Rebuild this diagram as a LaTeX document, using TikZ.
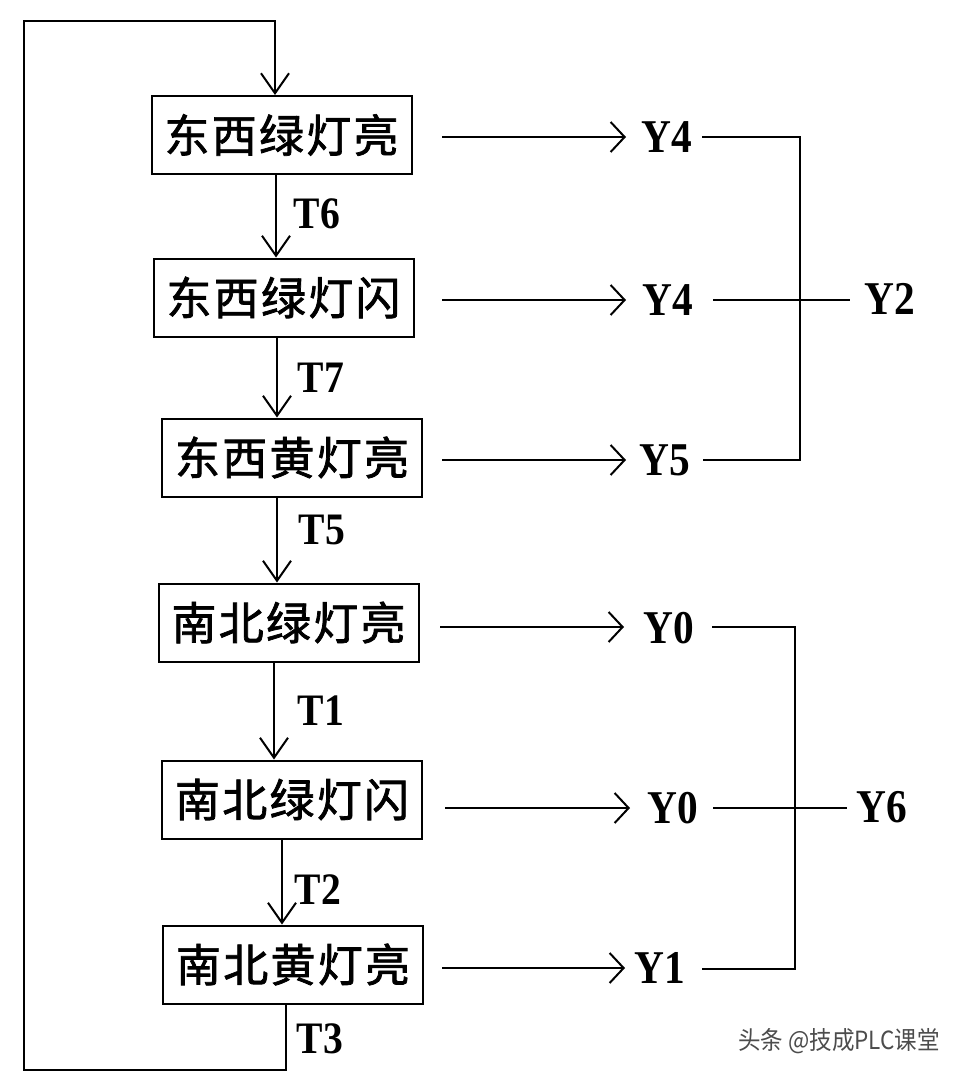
\documentclass[tikz,border=0pt]{standalone}
\usepackage{fontspec}
\setmainfont{Liberation Serif}
\newfontfamily\lab[FakeStretch=0.88]{Liberation Serif}
\newfontfamily\cjk[LetterSpace=5, FakeBold=1.6]{Noto Sans CJK SC}
\newfontfamily\wmfont[FakeStretch=0.9]{Noto Sans CJK SC}
\usetikzlibrary{arrows.meta}
\begin{document}
\begin{tikzpicture}[x=1pt,y=-1pt,
  stepbox/.style={draw, line width=2pt, minimum width=260pt, minimum height=78pt, inner sep=0pt, font=\cjk\fontsize{45}{45}\selectfont},
  ylab/.style={inner sep=0pt, font=\lab\bfseries\fontsize{47}{47}\selectfont},
  tlab/.style={inner sep=0pt, font=\lab\bfseries\fontsize{45}{45}\selectfont},
  conn/.style={line width=2pt},
  varr/.style={conn, -{Straight Barb[length=20pt,width=28pt]}},
  harr/.style={conn, -{Straight Barb[length=14pt,width=30pt]}},
  wm/.style={inner sep=0pt, text=black!70, font=\wmfont\fontsize{25}{25}\selectfont}
]
\path[use as bounding box, fill=white] (0,0) rectangle (978,1076);

% boxes
\node[stepbox] (b1) at (281.5,135) {东西绿灯亮};
\node[stepbox] (b2) at (283.5,297.5) {东西绿灯闪};
\node[stepbox] (b3) at (292,457.5) {东西黄灯亮};
\node[stepbox] (b4) at (288.5,622.5) {南北绿灯亮};
\node[stepbox] (b5) at (292,799.5) {南北绿灯闪};
\node[stepbox] (b6) at (293,964.5) {南北黄灯亮};

% transition labels
\node[tlab] (t6) at (317,214) {T6};
\node[tlab] (t7) at (321,378) {T7};
\node[tlab] (t5) at (322,530) {T5};
\node[tlab] (t1) at (321,711) {T1};
\node[tlab] (t2) at (318,890) {T2};
\node[tlab] (t3) at (320,1039) {T3};

% vertical arrows
\coordinate (a1) at (276,174);
\coordinate (a2) at (277,337);
\coordinate (a3) at (277,497);
\coordinate (a4) at (274,662);
\coordinate (a5) at (282,838);
\draw[varr] (a1) -- (a1 |- b2.north);
\draw[varr] (a2) -- (a2 |- b3.north);
\draw[varr] (a3) -- (a3 |- b4.north);
\draw[varr] (a4) -- (a4 |- b5.north);
\draw[varr] (a5) -- (a5 |- b6.north);

% loop back
\coordinate (lb) at (286,1070);
\coordinate (lbl) at (24,1070);
\coordinate (ltl) at (24,21);
\coordinate (ltr) at (275,21);
\draw[varr] (b6.south -| lb) -- (lb) -- (lbl) -- (ltl) -- (ltr) -- (ltr |- b1.north);

% outputs, east-west group
\node[ylab] (ya) at (667,137.5) {Y4};
\node[ylab] (yb) at (668,300) {Y4};
\node[ylab] (yc) at (665,460) {Y5};
\node[ylab] (y2) at (890,299) {Y2};
\coordinate (sa) at (442,137);
\coordinate (sb) at (442,300);
\coordinate (sc) at (442,460);
\draw[harr] (sa) -- (sa -| 626,0);
\draw[harr] (sb) -- (sb -| 626,0);
\draw[harr] (sc) -- (sc -| 626,0);
\coordinate (ra) at (800,137);
\coordinate (rc) at (800,460);
\draw[conn] (702,137) -- (ra) -- (rc) -- (703,460);
\draw[conn] (713,300) -- (850,300);

% outputs, south-north group
\node[ylab] (yd) at (669,628) {Y0};
\node[ylab] (ye) at (673,808) {Y0};
\node[ylab] (yf) at (660,968) {Y1};
\node[ylab] (y6) at (882,807) {Y6};
\coordinate (sd) at (440,627);
\coordinate (se) at (445,808);
\coordinate (sf) at (442,968);
\draw[harr] (sd) -- (sd -| 624,0);
\draw[harr] (se) -- (se -| 630,0);
\draw[harr] (sf) -- (sf -| 625,0);
\coordinate (rd) at (795,627);
\coordinate (rf) at (795,969);
\draw[conn] (712,627) -- (rd) -- (rf) -- (702,969);
\draw[conn] (713,808) -- (847,808);

% watermark
\node[wm] (wmk) at (839,1041) {头条 @技成PLC课堂};
\end{tikzpicture}
\end{document}
